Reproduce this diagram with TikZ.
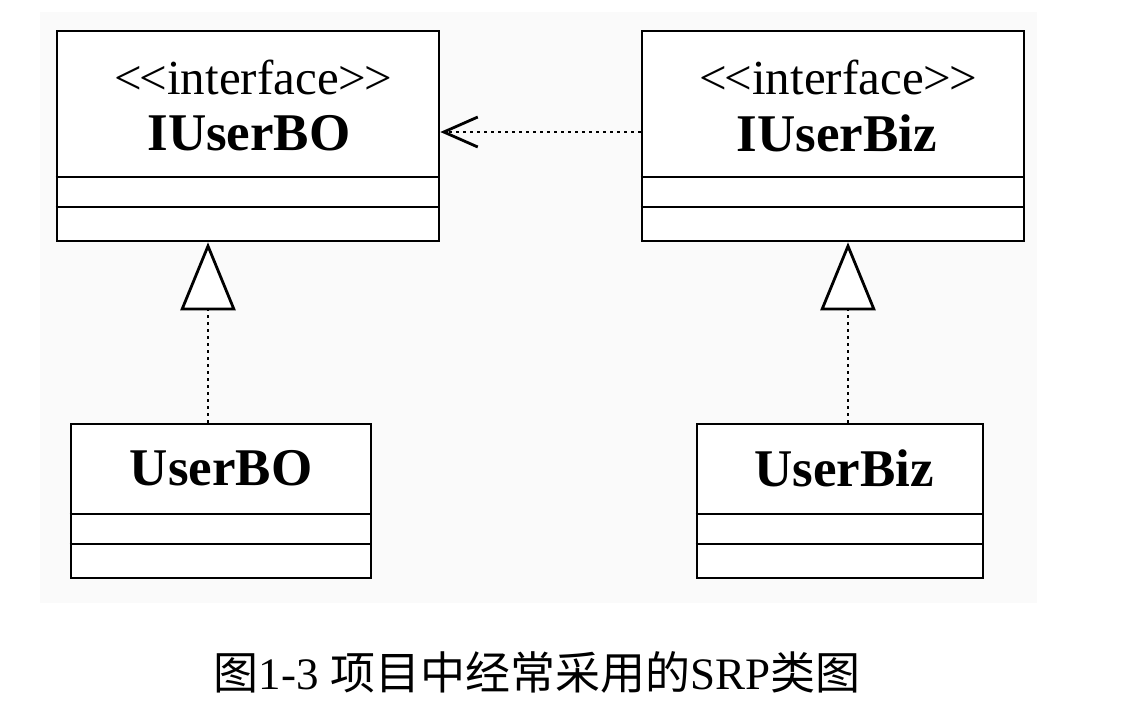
\documentclass[tikz,border=0pt]{standalone}
\usepackage{fontspec}
\setmainfont{Liberation Serif}
\newfontfamily\cjk{Noto Sans CJK SC}
\usetikzlibrary{arrows.meta}
\newcommand{\stereotxt}{<\kern-2pt<interface>\kern-2pt>}
\tikzset{
  classbox/.style={draw=black, line width=2.6pt, fill=white, rectangle, inner sep=0pt},
  divider/.style={draw=black, line width=2.4pt},
  stereo/.style={inner sep=0pt, font=\fontsize{49}{52}\selectfont},
  cname/.style={inner sep=0pt, font=\fontsize{53}{58}\selectfont\bfseries},
  realize/.style={line width=2.5pt, dash pattern=on 2.5pt off 4.5pt,
    -{Triangle[open, length=68pt, width=55pt, line width=2.8pt, fill=white]}},
  depend/.style={line width=2.5pt, dash pattern=on 2.5pt off 4.5pt,
    -{Straight Barb[length=34pt, width=30pt, line width=2.8pt]}},
  caption/.style={inner sep=0pt, font=\fontsize{45}{50}\selectfont}
}
\begin{document}
\begin{tikzpicture}[x=1pt,y=-1pt]
\useasboundingbox (0,0) rectangle (1133,713);
\fill[black!2] (40,12) rectangle (1037,603);

% interface boxes
\node[classbox, minimum width=382pt, minimum height=210pt] (IUserBO) at (248,136) {};
\draw[divider] (IUserBO.west |- 0,177) -- (IUserBO.east |- 0,177);
\draw[divider] (IUserBO.west |- 0,207) -- (IUserBO.east |- 0,207);
\node[stereo] (stBO) at (253,77) {\stereotxt};
\node[cname] (nmBO) at (249,133) {IUserBO};

\node[classbox, minimum width=382pt, minimum height=210pt] (IUserBiz) at (833,136) {};
\draw[divider] (IUserBiz.west |- 0,177) -- (IUserBiz.east |- 0,177);
\draw[divider] (IUserBiz.west |- 0,207) -- (IUserBiz.east |- 0,207);
\node[stereo] (stBiz) at (838,77) {\stereotxt};
\node[cname] (nmBiz) at (837,133) {IUserBiz};

% implementation boxes
\node[classbox, minimum width=300pt, minimum height=154pt] (UserBO) at (221,501) {};
\draw[divider] (UserBO.west |- 0,514) -- (UserBO.east |- 0,514);
\draw[divider] (UserBO.west |- 0,544) -- (UserBO.east |- 0,544);
\node[cname] (nmUBO) at (221,468) {UserBO};

\node[classbox, minimum width=286pt, minimum height=154pt] (UserBiz) at (840,501) {};
\draw[divider] (UserBiz.west |- 0,514) -- (UserBiz.east |- 0,514);
\draw[divider] (UserBiz.west |- 0,544) -- (UserBiz.east |- 0,544);
\node[cname] (nmUBiz) at (844,468) {UserBiz};

% connectors
\coordinate (xl) at (208,0);
\coordinate (xr) at (848,0);
\draw[realize] (xl |- UserBO.north) -- (xl |- IUserBO.south);
\draw[realize] (xr |- UserBiz.north) -- (xr |- IUserBiz.south);
\draw[depend] (IUserBiz.west |- 0,132) -- (IUserBO.east |- 0,132);

% caption
\node[caption] (cap) at (537,672) {{\cjk 图}1-3 {\cjk 项目中经常采用的}SRP{\cjk 类图}};
\end{tikzpicture}
\end{document}
